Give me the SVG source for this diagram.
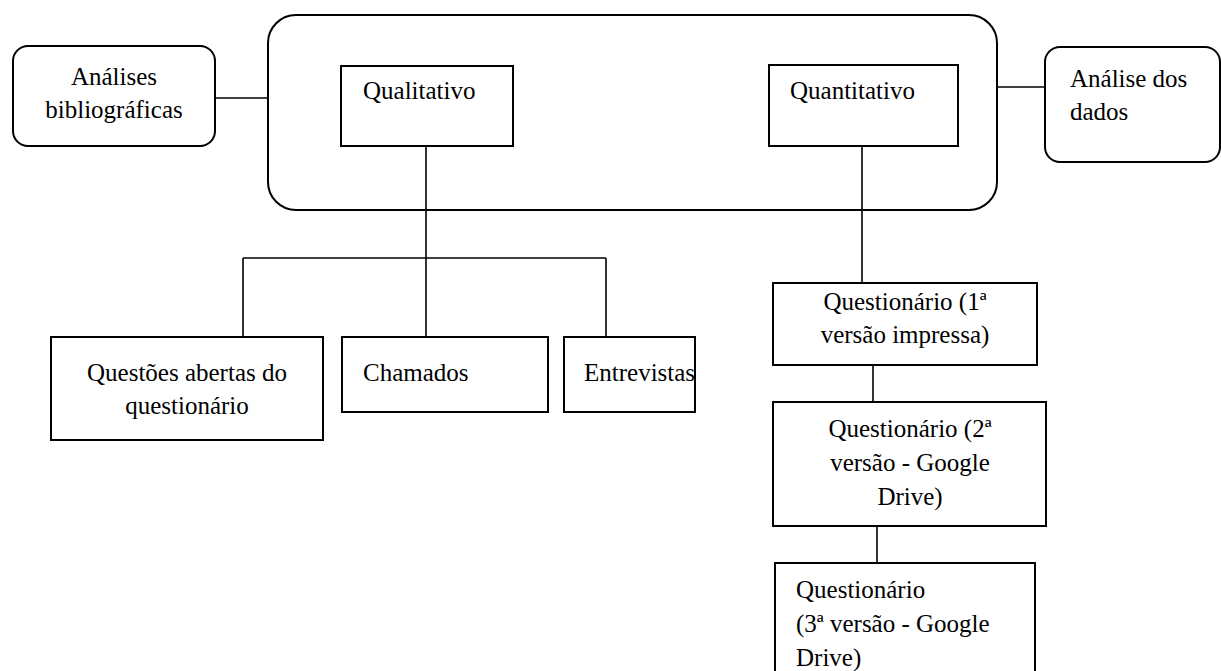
<svg xmlns="http://www.w3.org/2000/svg" width="1221" height="671" viewBox="0 0 1221 671">
<style>
.box{fill:#fff;stroke:#000;stroke-width:2}
.ln{fill:none;stroke:#000;stroke-width:1.6}
.c{text-anchor:middle}
</style>
<rect x="0" y="0" width="1221" height="671" fill="#fff"/>
<g id="connectors">
<line class="ln" x1="215" y1="98" x2="268" y2="98"/>
<line class="ln" x1="997" y1="87" x2="1045" y2="87"/>
<line class="ln" x1="426" y1="146" x2="426" y2="337"/>
<line class="ln" x1="243" y1="258" x2="606" y2="258"/>
<line class="ln" x1="243" y1="258" x2="243" y2="337"/>
<line class="ln" x1="606" y1="258" x2="606" y2="337"/>
<line class="ln" x1="862" y1="146" x2="862" y2="283"/>
<line class="ln" x1="873" y1="365" x2="873" y2="402"/>
<line class="ln" x1="877" y1="526" x2="877" y2="563"/>
</g>
<g font-family="Liberation Serif, Times New Roman, serif" font-size="25" fill="#000">
<g id="container">
<rect class="box" x="268" y="15" width="729" height="195" rx="28" ry="28" style="fill:none"/>
</g>
<g id="analises">
<rect class="box" x="13" y="46" width="202" height="100" rx="15" ry="15"/>
<text class="c" x="114" y="85">Análises</text>
<text class="c" x="114" y="118">bibliográficas</text>
</g>
<g id="qualitativo">
<rect class="box" x="341" y="66" width="172" height="80"/>
<text x="363" y="99">Qualitativo</text>
</g>
<g id="quantitativo">
<rect class="box" x="769" y="65" width="189" height="81"/>
<text x="790" y="99">Quantitativo</text>
</g>
<g id="analise-dados">
<rect class="box" x="1045" y="47" width="175" height="115" rx="15" ry="15"/>
<text x="1070" y="87">Análise dos</text>
<text x="1070" y="120">dados</text>
</g>
<g id="questoes">
<rect class="box" x="51" y="337" width="272" height="103"/>
<text class="c" x="187" y="381">Questões abertas do</text>
<text class="c" x="187" y="414">questionário</text>
</g>
<g id="chamados">
<rect class="box" x="342" y="337" width="206" height="75"/>
<text x="363" y="381">Chamados</text>
</g>
<g id="entrevistas">
<rect class="box" x="564" y="337" width="131" height="75"/>
<text x="584" y="381">Entrevistas</text>
</g>
<g id="q1">
<rect class="box" x="773" y="283" width="264" height="82"/>
<text class="c" x="905" y="310">Questionário (1ª</text>
<text class="c" x="905" y="343">versão impressa)</text>
</g>
<g id="q2">
<rect class="box" x="773" y="402" width="273" height="124"/>
<text class="c" x="910" y="437">Questionário (2ª</text>
<text class="c" x="910" y="471">versão - Google</text>
<text class="c" x="910" y="505">Drive)</text>
</g>
<g id="q3">
<rect class="box" x="775" y="563" width="260" height="130"/>
<text x="796" y="598">Questionário</text>
<text x="796" y="632">(3ª versão - Google</text>
<text x="796" y="666">Drive)</text>
</g>
</g>
</svg>
